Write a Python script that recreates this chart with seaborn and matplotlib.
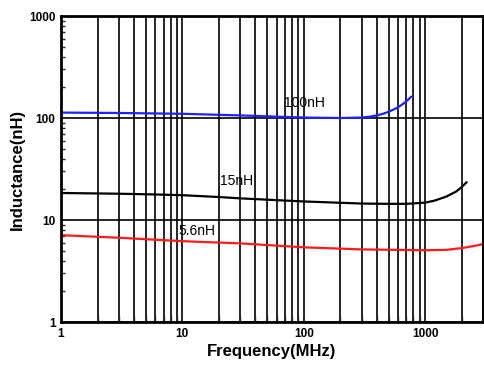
import pandas as pd
import matplotlib
matplotlib.use("Agg")
import matplotlib.pyplot as plt
import matplotlib.ticker as mticker
import seaborn as sns

# Valores (frecuencia en MHz, inductancia en nH)
freq_100 = [1, 3, 10, 30, 100, 200, 300, 350, 400, 450, 500, 550, 600, 650, 700, 770]
ind_100 = [113, 112, 110, 106, 101, 100, 101, 103, 106, 110, 115, 121, 128, 136, 146, 162]

freq_15 = [1, 3, 6, 10, 20, 30, 100, 300, 500, 700, 1000, 1200, 1500, 1800, 2000, 2200]
ind_15 = [18.4, 18.1, 17.8, 17.5, 16.8, 16.3, 15.2, 14.5, 14.4, 14.4, 14.8, 15.5, 17.0, 19.0, 21.0, 23.5]

freq_5_6 = [1, 3, 10, 30, 100, 300, 1000, 1500, 2000, 2500, 3000]
ind_5_6 = [7.1, 6.7, 6.2, 5.9, 5.4, 5.15, 5.05, 5.1, 5.3, 5.55, 5.8]

series = [
    ("100nH", freq_100, ind_100, "#1f1fff"),
    ("15nH", freq_15, ind_15, "black"),
    ("5.6nH", freq_5_6, ind_5_6, "#ff1a1a"),
]

sns.set_style("white")
plt.rcParams['font.family'] = ['Liberation Sans', 'DejaVu Sans']
plt.rcParams['text.color'] = 'black'
plt.rcParams['axes.labelcolor'] = 'black'

fig = plt.figure(figsize=(4.84, 3.67), dpi=100)
ax = fig.add_axes([0.126, 0.1226, 0.872, 0.8338])

for nombre, f, l, c in series:
    df = pd.DataFrame({"f": f, "L": l})
    sns.lineplot(data=df, x="f", y="L", color=c, linewidth=1.6, ax=ax)

ax.set_xscale("log")
ax.set_yscale("log")
ax.set_xlim(1, 3000)
ax.set_ylim(1, 1000)

# Rejilla: todas las líneas verticales, solo décadas en horizontal
ax.xaxis.set_major_locator(mticker.LogLocator(base=10, numticks=10))
ax.xaxis.set_minor_locator(mticker.LogLocator(base=10, subs=range(2, 10), numticks=20))
ax.yaxis.set_minor_locator(mticker.LogLocator(base=10, subs=range(2, 10), numticks=20))
ax.xaxis.set_major_formatter(mticker.FormatStrFormatter('%d'))
ax.yaxis.set_major_formatter(mticker.FormatStrFormatter('%d'))
ax.xaxis.set_minor_formatter(mticker.NullFormatter())
ax.yaxis.set_minor_formatter(mticker.NullFormatter())
ax.grid(which='both', axis='x', color='black', linewidth=1.2)
ax.grid(which='major', axis='y', color='black', linewidth=1.2)

ax.tick_params(axis='both', which='major', direction='in', length=5, width=1.2,
               labelsize=8.5, colors='black', pad=4)
ax.tick_params(axis='y', which='minor', direction='in', length=3, width=1, left=True)
ax.tick_params(axis='x', which='minor', direction='in', length=4, width=1, bottom=True)
for lbl in ax.get_xticklabels() + ax.get_yticklabels():
    lbl.set_fontweight('bold')

for s in ax.spines.values():
    s.set_color('black')
    s.set_linewidth(2)

ax.text(102, 140, "100nH", fontsize=10, ha='center', va='center', color='black')
ax.text(27.7, 24, "15nH", fontsize=10, ha='center', va='center', color='black')
ax.text(13.3, 7.8, "5.6nH", fontsize=10, ha='center', va='center', color='black')

ax.set_xlabel("Frequency(MHz)", fontsize=12, fontweight='bold', labelpad=3)
ax.set_ylabel("Inductance(nH)", fontsize=12, fontweight='bold', labelpad=3)

fig.savefig("out.png", dpi=100)
